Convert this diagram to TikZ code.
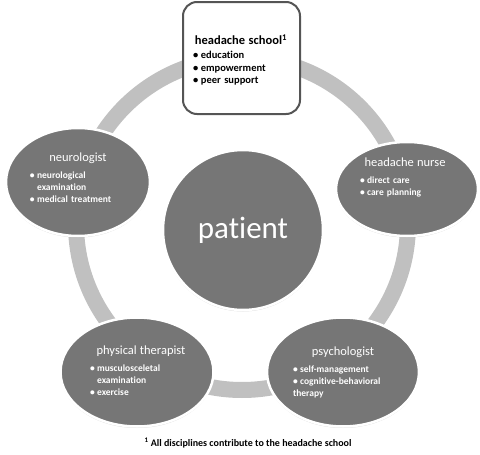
\documentclass[tikz,border=0pt]{standalone}
\usepackage{fontspec}
\setmainfont{Carlito}[Ligatures=NoCommon]
\usepackage{tikz}
\usetikzlibrary{shapes,shadows}
\definecolor{bubblegray}{RGB}{118,118,118}
\definecolor{ringgray}{RGB}{192,192,192}
\definecolor{boxborder}{RGB}{85,85,85}
\newcommand{\bitem}[1]{\par\hangindent=0.75em\hangafter=1\makebox[0.75em][l]{\textbullet}#1}
\newcommand{\bubbletitle}[1]{{\centering\fontsize{12.5}{14}\selectfont\mdseries #1\par}\vspace{5pt}}
\tikzstyle{bubble} = [ellipse, draw=white, line width=2.5pt, fill=bubblegray, inner sep=0pt,
    drop shadow={opacity=0.3, shadow xshift=0pt, shadow yshift=-1.5pt}]
\tikzstyle{hub} = [circle, draw=white, line width=2.5pt, fill=bubblegray, inner sep=0pt,
    minimum size=160pt, text=white, font=\fontsize{31}{33}\selectfont,
    drop shadow={opacity=0.3, shadow xshift=0pt, shadow yshift=-1.5pt}]
\tikzstyle{bubbletext} = [text=white, align=left, inner sep=0pt, font=\fontsize{9.5}{12}\selectfont\bfseries]
\tikzstyle{schoolbox} = [rectangle, draw=boxborder, line width=2pt, fill=white,
    rounded corners=14pt, minimum width=117pt, minimum height=112pt]
\tikzstyle{schooltext} = [align=left, inner sep=0pt, font=\fontsize{10.5}{12.5}\selectfont\bfseries]
\tikzstyle{ring} = [draw=ringgray, line width=16pt]

\begin{document}
\begin{tikzpicture}[x=1pt, y=-1pt]
			\useasboundingbox (0,0) rectangle (480,455);
			% Ring behind everything
			\path [ring] (242,224) circle [radius=166];
			% Place nodes
			\node [hub] (patient) at (243,230) {patient};
			\node [bubble, minimum width=144pt, minimum height=108pt] (neurologist) at (78,182) {};
			\node [bubble, minimum width=142pt, minimum height=94pt] (nurse) at (407,189) {};
			\node [bubble, minimum width=153pt, minimum height=109pt] (therapist) at (137,372) {};
			\node [bubble, minimum width=152pt, minimum height=109pt] (psychologist) at (343,372) {};
			\node [schoolbox] (school) at (241.5,58) {};
			% Texts
			\node [bubbletext, text width=96pt] (neurologistText) at (78,178) {\bubbletitle{neurologist}%
				\bitem{neurological\newline examination}\bitem{medical treatment}};
			\node [bubbletext, text width=90pt] (nurseText) at (405,177) {\bubbletitle{headache nurse}%
				\bitem{direct care}\bitem{care planning}};
			\node [bubbletext, text width=102pt] (therapistText) at (141,371) {\bubbletitle{physical therapist}%
				\bitem{musculosceletal\newline examination}\bitem{exercise}};
			\node [bubbletext, text width=100pt] (psychologistText) at (343,372) {\bubbletitle{psychologist}%
				\bitem{self-management}\bitem{cognitive-behavioral\newline therapy}};
			\node [schooltext, text width=96pt] (schoolText) at (241,60) {{\centering\fontsize{12.5}{15}\selectfont headache school\textsuperscript{1}\par}\vspace{2pt}%
				\bitem{education}\bitem{empowerment}\bitem{peer support}};
			\node [font=\fontsize{10}{12}\selectfont\bfseries] (footnote) at (248,443) {\textsuperscript{1} All disciplines contribute to the headache school};
	\end{tikzpicture}
\end{document}
